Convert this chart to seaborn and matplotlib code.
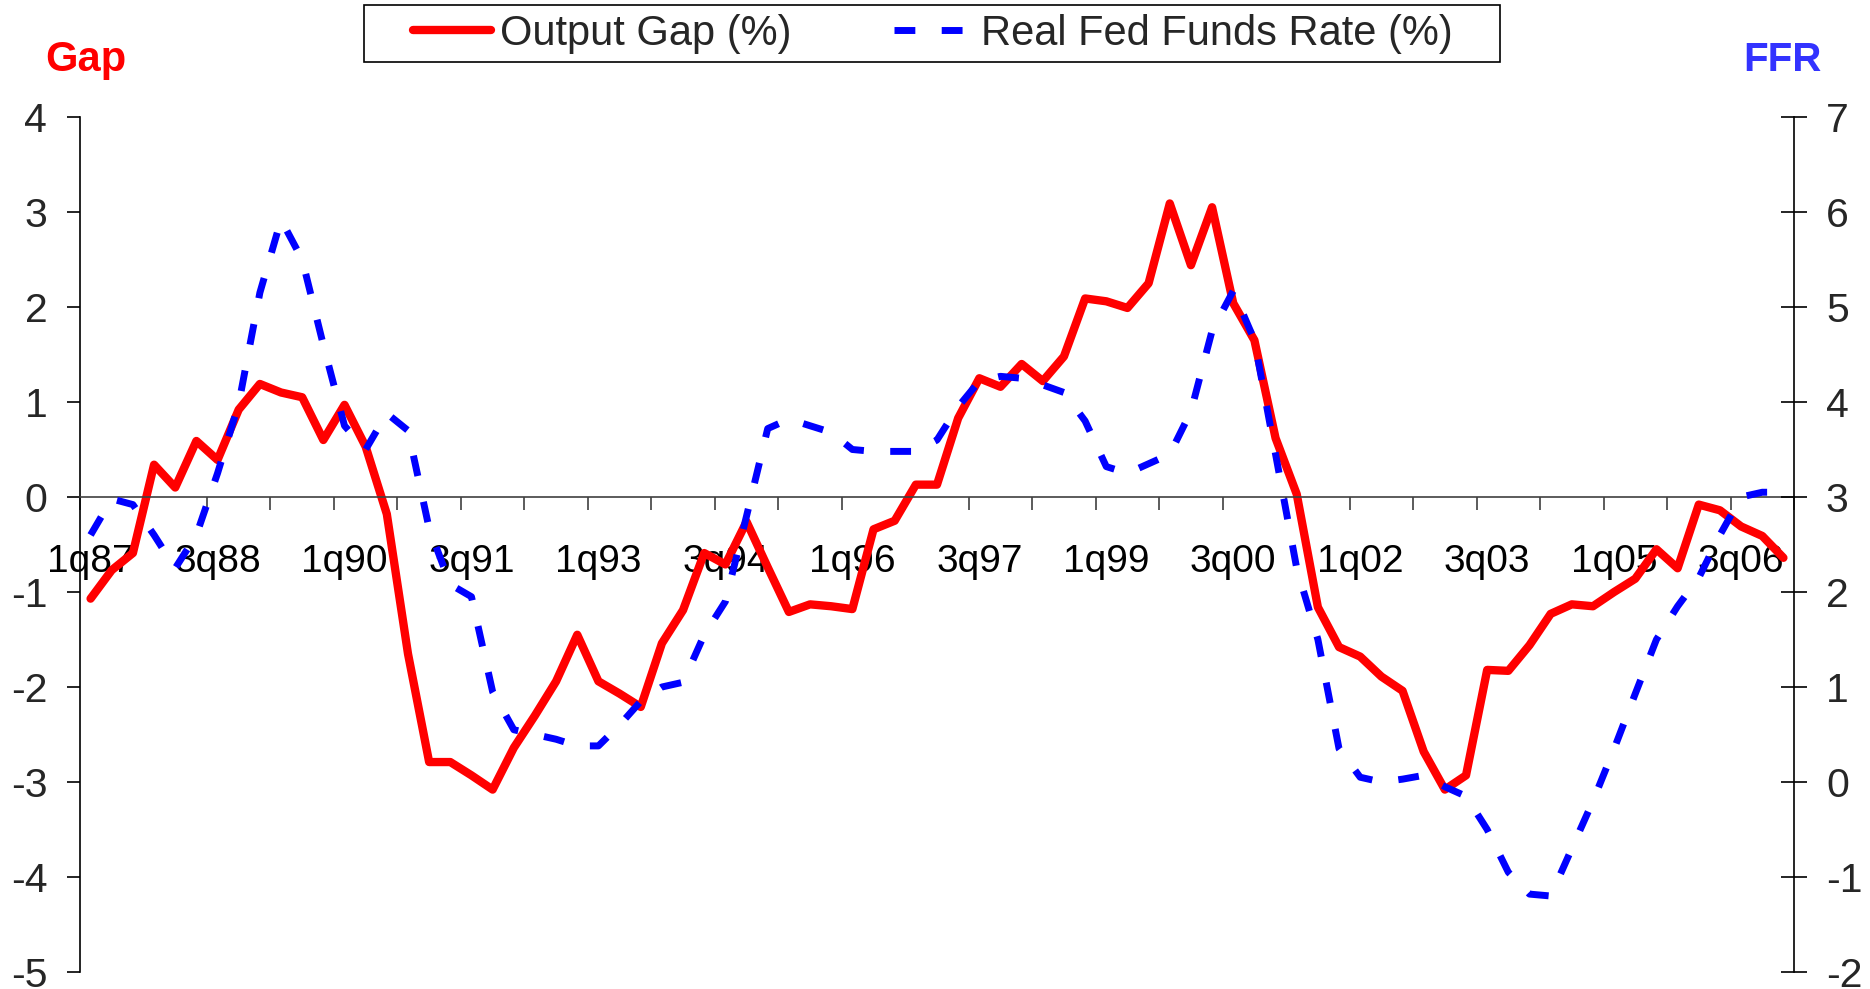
import numpy as np
import pandas as pd
import matplotlib
matplotlib.use("Agg")
import matplotlib.pyplot as plt
from matplotlib.patches import Rectangle
import seaborn as sns

# --- data ---
# quarterly, 1q87 .. 1q07
quarters = [f"{q}q{y % 100:02d}" for y in range(1987, 2008) for q in range(1, 5)][:81]

# output gap, %, left axis
gap = [-1.07, -0.77, -0.59, 0.34, 0.10, 0.59, 0.39, 0.92, 1.19, 1.10,
       1.05, 0.60, 0.97, 0.53, -0.18, -1.65, -2.79, -2.79, -2.93, -3.08,
       -2.64, -2.30, -1.94, -1.45, -1.94, -2.07, -2.21, -1.54, -1.19, -0.59,
       -0.71, -0.26, -0.74, -1.21, -1.13, -1.15, -1.18, -0.34, -0.25, 0.13,
       0.13, 0.83, 1.25, 1.16, 1.40, 1.22, 1.48, 2.09, 2.06, 1.99,
       2.25, 3.09, 2.44, 3.05, 2.04, 1.65, 0.62, 0.03, -1.16, -1.58,
       -1.68, -1.89, -2.04, -2.68, -3.08, -2.93, -1.82, -1.83, -1.56, -1.23,
       -1.13, -1.15, -1.00, -0.86, -0.55, -0.75, -0.08, -0.14, -0.31, -0.41,
       -0.64]

# real fed funds rate, %, right axis
ffr = [2.60, 2.98, 2.92, 2.60, 2.25, 2.60, 3.25, 3.98, 5.15, 5.92,
       5.50, 4.60, 3.75, 3.50, 3.88, 3.70, 2.67, 2.08, 1.95, 0.95,
       0.55, 0.50, 0.45, 0.38, 0.38, 0.60, 0.85, 1.00, 1.05, 1.55,
       1.90, 2.80, 3.72, 3.82, 3.75, 3.68, 3.50, 3.48, 3.48, 3.48,
       3.60, 3.95, 4.22, 4.27, 4.25, 4.18, 4.10, 3.80, 3.32, 3.25,
       3.35, 3.45, 3.90, 4.75, 5.17, 4.65, 3.45, 2.25, 1.50, 0.35,
       0.05, 0.00, 0.03, 0.07, -0.05, -0.15, -0.50, -0.95, -1.18, -1.20,
       -0.70, -0.20, 0.35, 0.93, 1.50, 1.85, 2.15, 2.60, 3.00, 3.05,
       3.05]

tick_labels = ["1q87", "3q88", "1q90", "3q91", "1q93", "3q94", "1q96",
               "3q97", "1q99", "3q00", "1q02", "3q03", "1q05", "3q06"]

df = pd.DataFrame({"t": np.arange(len(gap)), "quarter": quarters,
                   "gap": gap, "ffr": ffr})

sns.set_theme(style="white")
plt.rcParams["font.family"] = ["Liberation Sans", "DejaVu Sans"]
plt.rcParams["axes.unicode_minus"] = False

W, H = 1870, 989
fig = plt.figure(figsize=(W / 100, H / 100), dpi=100)
ax = fig.add_axes([80 / W, 17 / H, (1794 - 80) / W, (972 - 117) / H])
ax2 = ax.twinx()

sns.lineplot(data=df, x="t", y="gap", ax=ax, color="#FF0000",
             legend=False, label="Output Gap (%)")
sns.lineplot(data=df, x="t", y="ffr", ax=ax2, color="#0000FF",
             legend=False, label="Real Fed Funds Rate (%)")
red = ax.lines[-1]
red.set_linewidth(6.0)
red.set_solid_joinstyle("round")
blue = ax2.lines[-1]
blue.set_linewidth(5.0)
blue.set_linestyle((0, (3.0, 3.8)))
blue.set_dash_capstyle("butt")

n = len(gap)
ax.set_xlim(-0.5, n - 0.5)
ax.set_ylim(-5, 4)
ax2.set_ylim(-2, 7)
for a in (ax, ax2):
    a.set_xlabel("")
    a.set_ylabel("")
    a.grid(False)

# spines
ax.spines["top"].set_visible(False)
ax.spines["right"].set_visible(False)
ax.spines["bottom"].set_position(("data", 0))
ax.spines["bottom"].set_color("#404040")
ax.spines["bottom"].set_linewidth(1.2)
ax.spines["left"].set_color("black")
ax.spines["left"].set_linewidth(1.2)
for s in ("top", "left", "bottom"):
    ax2.spines[s].set_visible(False)
ax2.spines["right"].set_color("black")
ax2.spines["right"].set_linewidth(1.2)

# x axis: tick marks every 3 quarters, labels every 6
ax.set_xticks(np.arange(-0.5, n, 3))
ax.set_xticklabels([])
ax.set_xticks(np.arange(0, n, 6), minor=True)
ax.set_xticklabels(tick_labels, minor=True)
ax.tick_params(axis="x", which="major", direction="out", length=9.5,
               width=1.2, color="#404040", bottom=True)
ax.tick_params(axis="x", which="minor", length=0, pad=34, labelsize=28,
               labelcolor="black", bottom=True)

ax.set_yticks(range(-5, 5))
ax.tick_params(axis="y", direction="out", length=9.5, width=1.2,
               color="black", pad=14, labelsize=29.5, left=True)
ax2.set_yticks(range(-2, 8))
ax2.tick_params(axis="y", direction="inout", length=19, width=1.2,
                color="black", pad=13.5, labelsize=29.5, right=True)

# axis titles
fig.text(86 / W, 1 - 60 / H, "Gap", color="#FF0000", fontsize=30,
         fontweight="bold", ha="center", va="center")
fig.text(1782 / W, 1 - 60 / H, "FFR", color="#3333FF", fontsize=29,
         fontweight="bold", ha="center", va="center")

# legend with a plain box
h1, l1 = ax.get_legend_handles_labels()
h2, l2 = ax2.get_legend_handles_labels()
fig.legend(h1 + h2, l1 + l2, loc="center", ncol=2, frameon=False,
           bbox_to_anchor=(933 / W, 1 - 34 / H), fontsize=30,
           handlelength=1.87, handletextpad=0.22, columnspacing=2.47,
           borderpad=0)
fig.patches.append(Rectangle((364 / W, 1 - 62 / H), (1500 - 364) / W,
                             57 / H, transform=fig.transFigure,
                             fill=False, edgecolor="black", lw=1.2))

fig.savefig("out.png", dpi=100)
